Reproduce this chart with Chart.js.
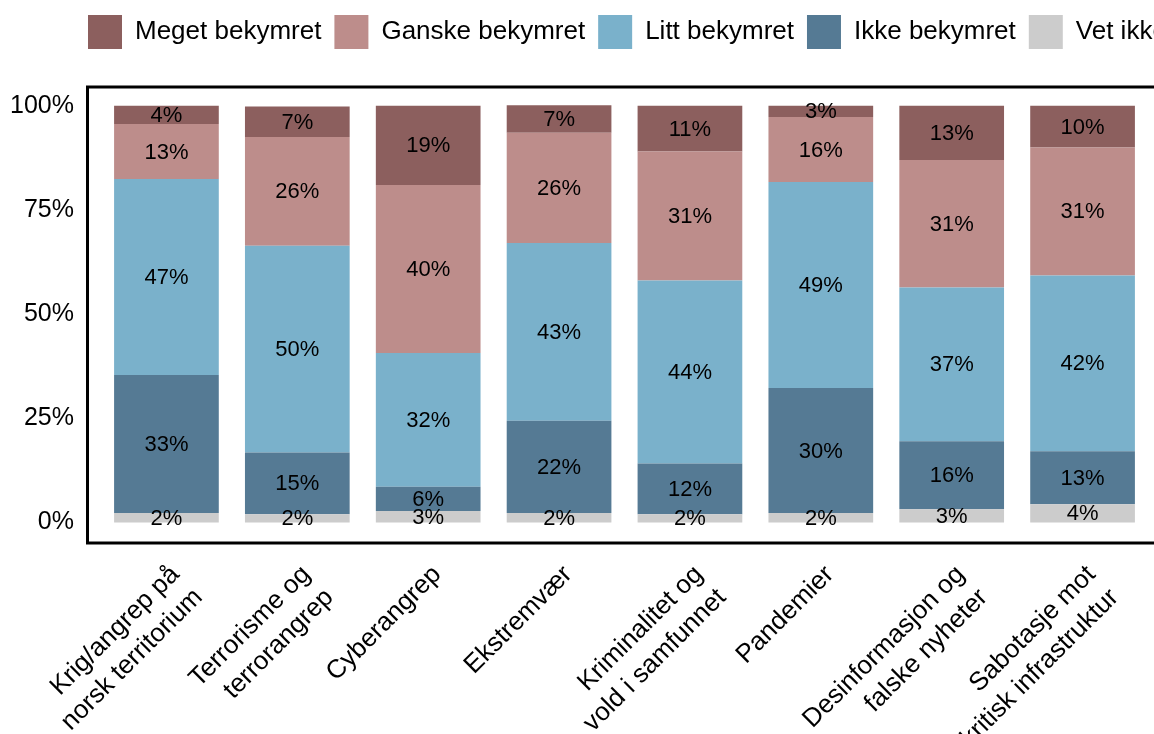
<!DOCTYPE html>
<html>
<head>
<meta charset="utf-8">
<script src="https://cdn.jsdelivr.net/npm/chart.js@4.4.0/dist/chart.umd.min.js"></script>
<style>
  html, body { margin: 0; padding: 0; background: #fff; overflow: hidden; }
  #wrap { width: 1154px; height: 734px; }
</style>
</head>
<body>
<div id="wrap"><canvas id="chart" width="1154" height="734"></canvas></div>
<script>
const categories = [
    ['Krig/angrep på', 'norsk territorium'],
    ['Terrorisme og', 'terrorangrep'],
    'Cyberangrep',
    'Ekstremvær',
    ['Kriminalitet og', 'vold i samfunnet'],
    'Pandemier',
    ['Desinformasjon og', 'falske nyheter'],
    ['Sabotasje mot', 'kritisk infrastruktur']
]
const vetIkke = [2.3, 2.0, 2.8, 2.3, 2.0, 2.3, 3.2, 4.4]
const ikkeBekymret = [33.1, 14.8, 5.8, 22.1, 12.2, 30.0, 16.3, 12.7]
const littBekymret = [47.0, 49.6, 32.1, 42.7, 43.9, 49.4, 36.9, 42.2]
const ganskeBekymret = [13.2, 26.1, 40.3, 26.4, 30.9, 15.6, 30.6, 30.7]
const megetBekymret = [4.4, 7.3, 19.0, 6.6, 11.0, 2.7, 13.0, 10.0]
const yTicks = [0, 25, 50, 75, 100]

const font = "'Liberation Sans', Arial, sans-serif"

// legend sits further right than Chart.js would put it, and ends above the frame
const legendShift = {
    id: 'legendShift',
    beforeInit(chart) {
        const fit = chart.legend.fit
        chart.legend.fit = function () {
            fit.call(this)
            this.height = 85
        }
    },
    afterLayout(chart) {
        const lg = chart.legend
        const dx = 88 - (lg.left + lg.options.labels.padding)
        lg.left += dx
        lg.right += dx
    }
}

// black frame around the plot, a little wider than the category area
const frame = {
    id: 'frame',
    afterDraw(chart) {
        const a = chart.chartArea
        const ctx = chart.ctx
        ctx.save()
        ctx.strokeStyle = '#000'
        ctx.lineWidth = 3
        ctx.strokeRect(a.left - 13.5, a.top, a.right - a.left + 27, a.bottom - a.top)
        ctx.restore()
    }
}

// percentage labels in the middle of each segment
const segLabels = {
    id: 'segLabels',
    afterDatasetsDraw(chart) {
        const ctx = chart.ctx
        ctx.save()
        ctx.font = '22px ' + font
        ctx.fillStyle = '#000'
        ctx.textAlign = 'center'
        ctx.textBaseline = 'middle'
        chart.data.datasets.forEach((ds, i) => {
            chart.getDatasetMeta(i).data.forEach((bar, j) => {
                ctx.fillText(Math.round(ds.data[j]) + '%', bar.x, (bar.y + bar.base) / 2 + 1)
            })
        })
        ctx.restore()
    }
}

const com = new Chart(
    document.getElementById('chart'),
    {
        type: 'bar',
        data: {
            labels: categories,
            datasets: [
                { label: 'Vet ikke', data: vetIkke, backgroundColor: '#cccccc' },
                { label: 'Ikke bekymret', data: ikkeBekymret, backgroundColor: '#557a94' },
                { label: 'Litt bekymret', data: littBekymret, backgroundColor: '#7ab1cb' },
                { label: 'Ganske bekymret', data: ganskeBekymret, backgroundColor: '#bd8d8b' },
                { label: 'Meget bekymret', data: megetBekymret, backgroundColor: '#8c5f5e' }
            ]
        },
        options: {
            responsive: false,
            animation: false,
            devicePixelRatio: 1,
            layout: { padding: { top: 2, right: 6, left: 0, bottom: 0 } },
            datasets: {
                bar: { borderWidth: 0, categoryPercentage: 1, barPercentage: 0.8 }
            },
            plugins: {
                tooltip: { enabled: false },
                legend: {
                    position: 'top',
                    align: 'start',
                    reverse: true,
                    labels: {
                        boxWidth: 34,
                        boxHeight: 34,
                        padding: 13,
                        color: '#000',
                        font: { family: font, size: 26 }
                    }
                }
            },
            scales: {
                x: {
                    stacked: true,
                    grid: { display: false },
                    border: { display: false },
                    ticks: {
                        color: '#000',
                        font: { family: font, size: 26, lineHeight: 1.25 },
                        minRotation: 45,
                        maxRotation: 45,
                        autoSkip: false,
                        padding: 8,
                        labelOffset: 9
                    },
                    afterFit(s) { s.height = 191 }
                },
                y: {
                    stacked: true,
                    min: -4.9,
                    max: 104.5,
                    grid: { display: false, drawTicks: false },
                    border: { display: false },
                    afterBuildTicks(s) { s.ticks = yTicks.map(v => ({ value: v })) },
                    ticks: {
                        color: '#000',
                        font: { family: font, size: 25 },
                        padding: 27,
                        callback: v => v + '%'
                    },
                    afterFit(s) { s.width = 101 }
                }
            }
        },
        plugins: [legendShift, frame, segLabels]
    }
)
</script>
</body>
</html>
